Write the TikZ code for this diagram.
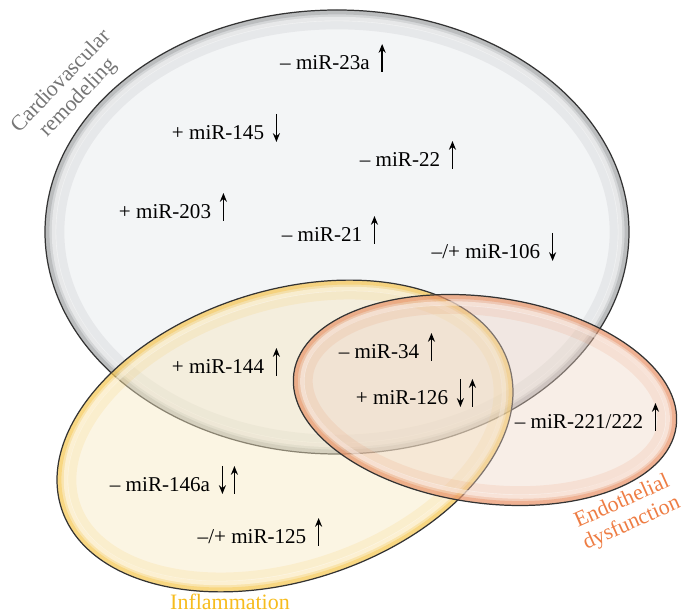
\documentclass[tikz,border=0pt]{standalone}
\usepackage{fontspec}
\setmainfont{Liberation Serif}
\usepackage{tikz}
\usetikzlibrary{calc, arrows.meta}

\definecolor{cvfill}{RGB}{240,242,244}
\definecolor{cvrim}{RGB}{140,142,146}
\definecolor{infill}{RGB}{246,232,192}
\definecolor{inrim}{RGB}{246,190,50}
\definecolor{edfill}{RGB}{238,212,196}
\definecolor{edrim}{RGB}{232,128,76}
\definecolor{cvtext}{RGB}{118,118,118}
\definecolor{intext}{RGB}{246,188,30}
\definecolor{edtext}{RGB}{238,125,68}

\tikzset{
    mir/.style={inner sep=0pt, font=\fontsize{12}{14}\selectfont},
    setname/.style={inner sep=0pt, align=center, font=\fontsize{12.5}{13.5}\selectfont},
    arr/.style={line width=1pt, -{Stealth[length=5pt,width=4pt]}},
    edge/.style={draw=black!80, line width=0.7pt},
}

% arrows after a label
\newcommand{\uparr}[2][12]{\draw[arr] ($(#2.east)+(#1,9)$) -- ++(0,-28);}
\newcommand{\dnarr}[2][12]{\draw[arr] ($(#2.east)+(#1,-19)$) -- ++(0,28);}

% one set of the diagram: centre, radii, angle, fill, rim, fill opacity
\newcommand{\vennset}[7]{
    \fill[#5, fill opacity=#7, rotate around={#4:#1}] #1 ellipse [x radius=#2, y radius=#3];
    \begin{scope}
        \clip[rotate around={#4:#1}] #1 ellipse [x radius=#2, y radius=#3];
        \draw[#6, line width=22pt, opacity=0.12, rotate around={#4:#1}] #1 ellipse [x radius=#2, y radius=#3];
        \draw[#6, line width=12pt, opacity=0.2, rotate around={#4:#1}] #1 ellipse [x radius=#2, y radius=#3];
        \draw[#6, line width=5pt, opacity=0.35, rotate around={#4:#1}] #1 ellipse [x radius=#2, y radius=#3];
        \draw[white, line width=2.5pt, opacity=0.45, rotate around={#4:#1}] #1 ellipse [x radius=#2-9, y radius=#3-9];
    \end{scope}
    \draw[edge, rotate around={#4:#1}] #1 ellipse [x radius=#2, y radius=#3];
}

\begin{document}
\begin{tikzpicture}[x=0.02cm, y=-0.02cm]
    \useasboundingbox (0,0) rectangle (684,614);

    % sets
    \vennset{(337,232)}{292}{222}{0}{cvfill}{cvrim}{0.8}
    \vennset{(285,436)}{235}{145}{18}{infill}{inrim}{0.45}
    \vennset{(485,400)}{193}{103}{-8}{edfill}{edrim}{0.4}

    % set names
    \node[setname, text=cvtext, rotate=46] (cvname) at (70,90) {Cardiovascular\\remodeling};
    \node[setname, text=edtext, rotate=24] (edname) at (627,513) {Endothelial\\dysfunction};
    \node[setname, text=intext] (inname) at (230,602) {Inflammation};

    % microRNAs
    \node[mir] (m23a) at (325,63) {– miR-23a};
    \node[mir] (m145) at (218,133) {+ miR-145};
    \node[mir] (m22) at (400,160) {– miR-22};
    \node[mir] (m203) at (165,212) {+ miR-203};
    \node[mir] (m21) at (322,235) {– miR-21};
    \node[mir] (m106) at (486,252) {–/+ miR-106};
    \node[mir] (m144) at (218,367) {+ miR-144};
    \node[mir] (m34) at (379,352) {– miR-34};
    \node[mir] (m126) at (402,398) {+ miR-126};
    \node[mir] (m221) at (579,422) {– miR-221/222};
    \node[mir] (m146a) at (160,485) {– miR-146a};
    \node[mir] (m125) at (252,537) {–/+ miR-125};

    \uparr{m23a}
    \dnarr{m145}
    \uparr{m22}
    \uparr{m203}
    \uparr{m21}
    \dnarr{m106}
    \uparr{m144}
    \uparr{m34}
    \dnarr{m126}
    \uparr[24]{m126}
    \uparr{m221}
    \dnarr{m146a}
    \uparr[24]{m146a}
    \uparr{m125}
\end{tikzpicture}
\end{document}
